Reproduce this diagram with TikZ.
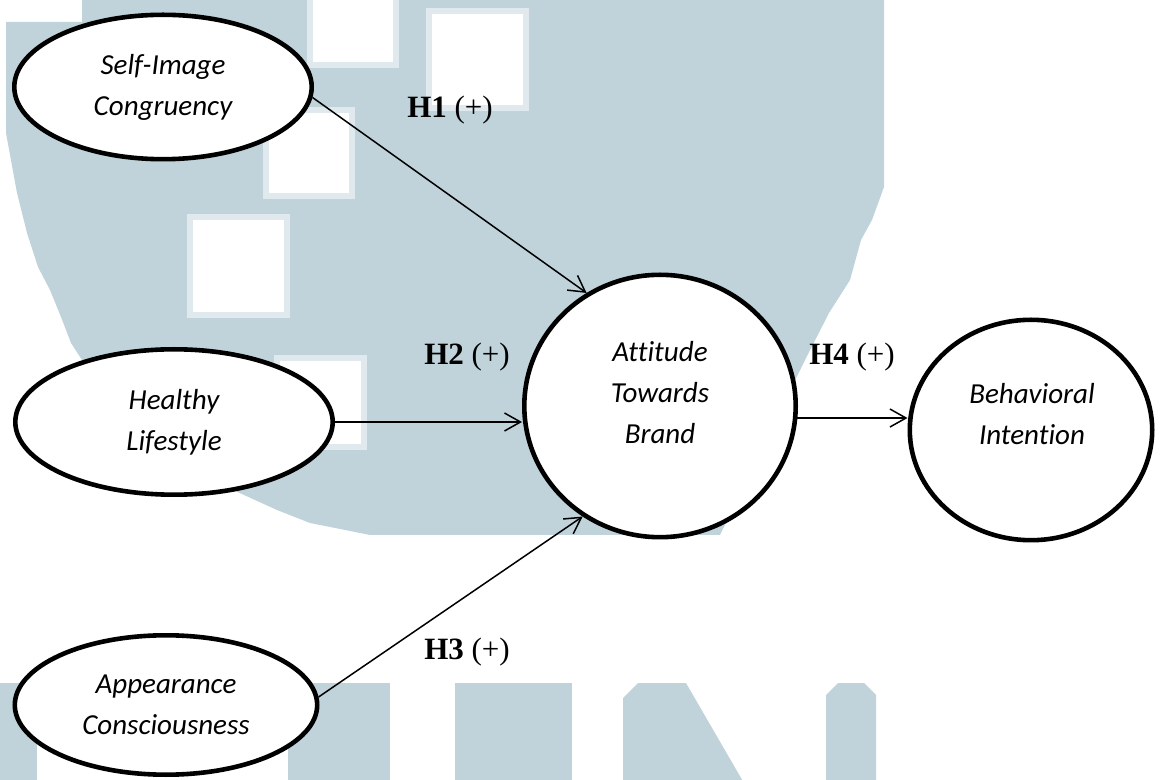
\documentclass[tikz,border=0pt]{standalone}
\usepackage{fontspec}
\setmainfont{Liberation Serif}
\newfontfamily\carlito[Ligatures={NoCommon}]{Carlito}
\usetikzlibrary{shapes.geometric,arrows.meta,positioning}

\definecolor{wmblue}{RGB}{192,211,218}
\definecolor{wmedge}{RGB}{224,234,238}

\tikzset{
  construct/.style={ellipse,draw,line width=2.3pt,fill=white,inner sep=0pt,align=center,
    font=\carlito\itshape\fontsize{14.5}{20.5}\selectfont},
  varname/.style={align=center,inner sep=0pt,font=\carlito\itshape\fontsize{14.5}{20.5}\selectfont},
  hyp/.style={line width=0.75pt,-{Straight Barb[length=8pt,width=9pt]}},
  hlabel/.style={anchor=base,inner sep=0pt,font=\fontsize{15.5}{18}\selectfont},
  wmsquare/.style={fill=white,draw=wmedge,line width=3pt}
}

\begin{document}
\begin{tikzpicture}[x=0.5pt,y=-0.5pt]
\useasboundingbox (0,0) rectangle (1168,780);

% watermark
\fill[wmblue] (6,22) -- (82,22) -- (82,0) -- (884,0) -- (884,187) -- (872,220) -- (861,240)
  -- (850,280) -- (829,313) -- (805,360) -- (720,535) -- (370,535) -- (310,523) -- (277,510)
  -- (233,490) -- (82,360) -- (71,343) -- (61,317) -- (50,290) -- (38,267) -- (27,233)
  -- (17,193) -- (6,133) -- cycle;
\foreach \x/\y/\X/\Y in {310/-10/396/65, 429/11/526/108, 266/110/352/196, 190/217/287/315, 277/358/364/447}
  \draw[wmsquare] (\x,\y) rectangle (\X,\Y);
\fill[wmblue] (-5,683) rectangle (37,790);
\fill[wmblue] (288,683) rectangle (390,790);
\fill[wmblue] (455,683) rectangle (572,790);
\fill[wmblue] (623,790) -- (623,698) -- (638,683) -- (686,683) -- (748,790) -- cycle;
\fill[wmblue] (826,790) -- (826,695) -- (838,683) -- (864,683) -- (876,695) -- (876,790) -- cycle;

% constructs
\node[construct,minimum width=148.7pt,minimum height=72.2pt] (sic) at (163,87) {Self-Image\\Congruency};
\node[construct,minimum width=158.7pt,minimum height=72.7pt] (hl) at (174,422) {Healthy\\Lifestyle};
\node[construct,minimum width=151.2pt,minimum height=69.7pt] (ac) at (166,705) {Appearance\\Consciousness};
\node[construct,minimum width=135.7pt,minimum height=131.2pt] (atb) at (660,406) {};
\node[varname] (atbtext) at (660,393) {Attitude\\Towards\\Brand};
\node[construct,minimum width=121.2pt,minimum height=110.2pt] (bi) at (1031,430) {};
\node[varname] (bitext) at (1032,414) {Behavioral\\Intention};

% hypotheses
\draw[hyp] (sic.-4) -- (atb.123);
\draw[hyp] (hl.east) -- (hl.east -| atb.west);
\draw[hyp] (ac.3) -- (atb.235);
\draw[hyp] (atb.-5) -- (atb.-5 -| bi.west);

\node[hlabel] (h1) at (450,118) {\textbf{H1} (+)};
\node[hlabel] (h2) at (467,365) {\textbf{H2} (+)};
\node[hlabel] (h3) at (467,660) {\textbf{H3} (+)};
\node[hlabel] (h4) at (852,365) {\textbf{H4} (+)};
\end{tikzpicture}
\end{document}
